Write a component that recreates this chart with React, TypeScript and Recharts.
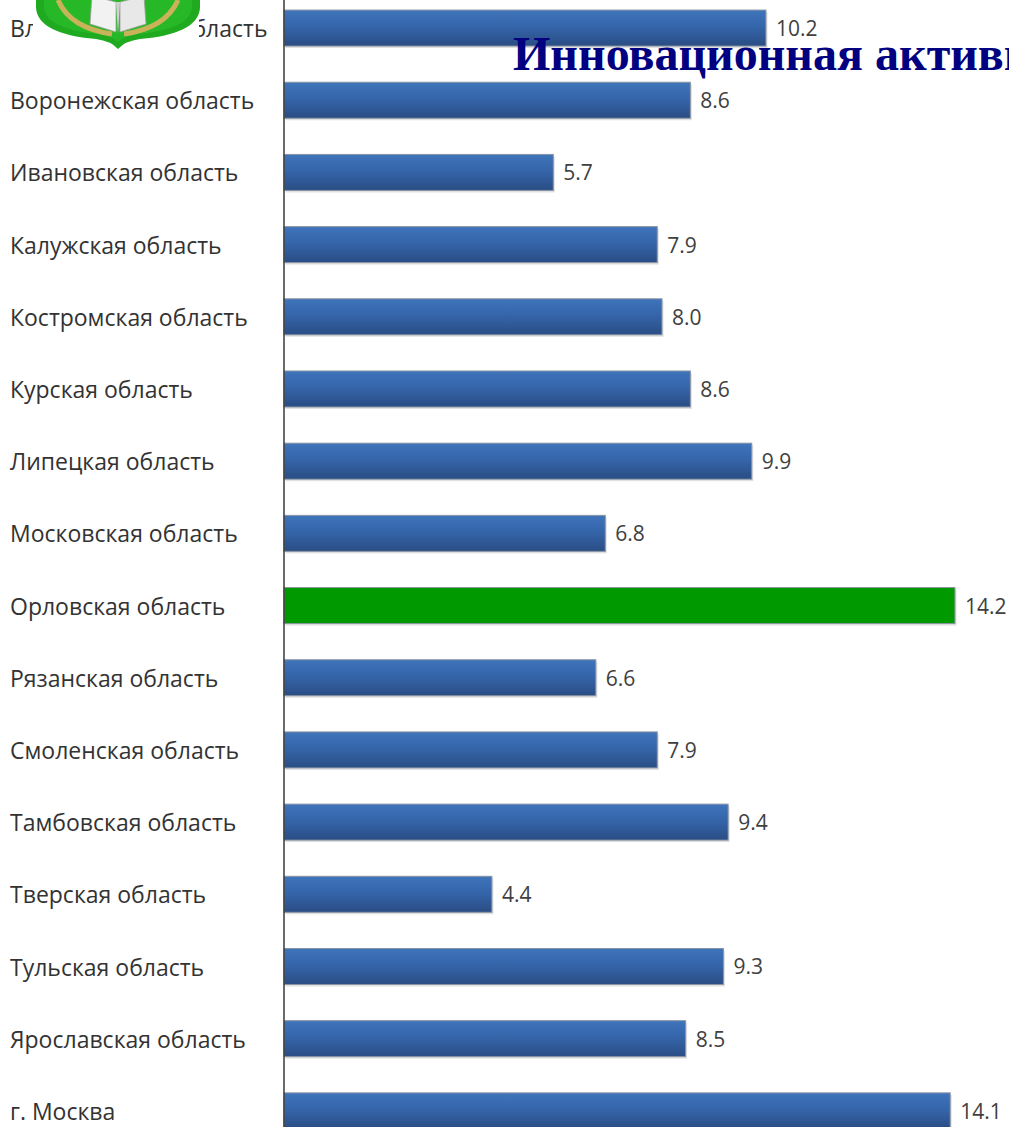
import React from 'react';
import { BarChart, Bar, XAxis, YAxis } from 'recharts';

const regions = [
  'Владимирская область',
  'Воронежская область',
  'Ивановская область',
  'Калужская область',
  'Костромская область',
  'Курская область',
  'Липецкая область',
  'Московская область',
  'Орловская область',
  'Рязанская область',
  'Смоленская область',
  'Тамбовская область',
  'Тверская область',
  'Тульская область',
  'Ярославская область',
  'г. Москва',
];

const values = [10.2, 8.6, 5.7, 7.9, 8.0, 8.6, 9.9, 6.8, 14.2, 6.6, 7.9, 9.4, 4.4, 9.3, 8.5, 14.1];

const highlighted = 'Орловская область';

const titleText = 'Инновационная активность организаций';

const data = regions.map((name, i) => ({ name, value: values[i] }));

const LABEL_FONT = '"Open Sans", "Noto Sans", sans-serif';

const RegionTick = (props: any) => {
  const { y, payload } = props;
  return (
    <text x={10} y={y} textAnchor="start" dominantBaseline="central" fontFamily={LABEL_FONT} fontSize={23} fill="#333333">
      {payload.value}
    </text>
  );
};

const renderValueLabel = (props: any) => {
  const { x, y, width, height, value } = props;
  return (
    <text x={Number(x) + Number(width) + 10} y={Number(y) + Number(height) / 2} textAnchor="start" dominantBaseline="central" fontFamily={LABEL_FONT} fontSize={21} fill="#404040">
      {Number(value).toFixed(1)}
    </text>
  );
};

const renderBarShape = (props: any) => {
  const isHi = props.payload && props.payload.name === highlighted;
  const x = Number(props.x);
  const y = Number(props.y);
  const w = Number(props.width);
  const h = Number(props.height);
  return (
    <g>
      <rect x={x + 1.5} y={y + 2} width={w} height={h} fill="#000000" opacity={0.12} />
      <rect
        x={x}
        y={y}
        width={w}
        height={h}
        fill={isHi ? '#009900' : 'url(#blueGrad)'}
        stroke="#8b95a5"
        strokeWidth={1}
      />
    </g>
  );
};

const Logo = () => (
  <g>
    <rect x={33} y={-10} width={166} height={52} fill="#ffffff" />
    <path d="M36,-12 L36,8 Q38,34 96,39 Q111,41 118,49 Q125,41 140,39 Q198,34 200,8 L200,-12 Z" fill="#1faa1f" />
    <path d="M44,-12 L44,8 Q46,29 98,34 Q112,36 118,42 Q124,36 138,34 Q190,29 192,8 L192,-12 Z" fill="#27b827" />
    <path d="M58,0 Q70,28 112,34" stroke="#c9b25a" strokeWidth={5} fill="none" />
    <path d="M178,0 Q166,28 124,34" stroke="#c9b25a" strokeWidth={5} fill="none" />
    <path d="M92,-4 L116,2 L116,32 L90,24 Z" fill="#f2f2f2" stroke="#a0a0a0" strokeWidth={0.8} />
    <path d="M144,-4 L120,2 L120,32 L146,24 Z" fill="#e8e8e8" stroke="#a0a0a0" strokeWidth={0.8} />
    <path d="M116,2 L118,34 L120,2" fill="#d0d0d0" />
  </g>
);

export default function App() {
  return (
    <div style={{ position: 'absolute', left: 0, top: 0, width: 1009, height: 1127, overflow: 'hidden', background: '#ffffff' }}>
      <div style={{ position: 'absolute', left: 0, top: -8 }}>
        <BarChart
          width={1040}
          height={1185}
          data={data}
          layout="vertical"
          margin={{ top: 0, right: 0, bottom: 0, left: 0 }}
          barCategoryGap="25%"
        >
          <defs>
            <linearGradient id="blueGrad" x1="0" y1="0" x2="0" y2="1">
              <stop offset="0%" stopColor="#3f74bb" />
              <stop offset="45%" stopColor="#3565aa" />
              <stop offset="100%" stopColor="#2a4d84" />
            </linearGradient>
          </defs>
          <XAxis type="number" domain={[0, 16]} height={30} tick={false} tickLine={false} axisLine={false} />
          <YAxis
            type="category"
            dataKey="name"
            width={284}
            tick={<RegionTick />}
            tickLine={false}
            axisLine={{ stroke: '#3a3a3a', strokeWidth: 1.5 }}
            interval={0}
          />
          <Bar dataKey="value" fill="#3565aa" isAnimationActive={false} shape={renderBarShape} label={renderValueLabel} />
        </BarChart>
      </div>
      <svg width={1009} height={1127} style={{ position: 'absolute', left: 0, top: 0, pointerEvents: 'none' }}>
        <Logo />
        <text x={513} y={70} fontFamily='"Liberation Serif", "Times New Roman", serif' fontWeight="bold" fontSize={48} fill="#000080">
          {titleText}
        </text>
      </svg>
    </div>
  );
}
